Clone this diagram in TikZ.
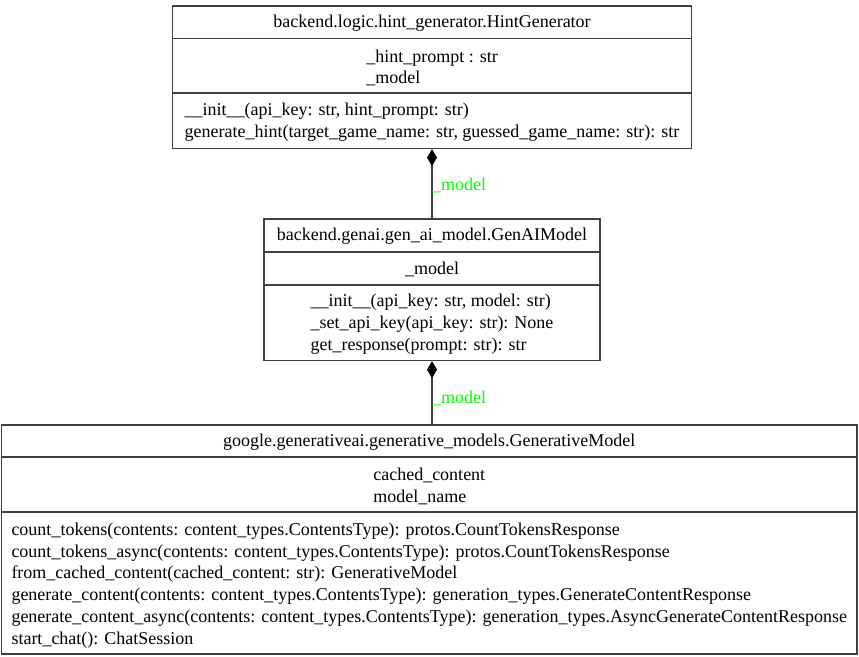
\documentclass[tikz,border=0pt]{standalone}
\usepackage{fontspec}
\setmainfont{Liberation Serif}
\newfontfamily\tmsfont{Liberation Serif}
\usetikzlibrary{arrows.meta}
\definecolor{lbl}{rgb}{0,1,0}
\definecolor{ln}{gray}{0.25}
\begin{document}
\begin{tikzpicture}[x=1pt,y=-1pt,
  box/.style={draw=ln, line width=1.2pt, inner sep=0pt},
  div/.style={draw=ln, line width=1.2pt},
  txt/.style={inner sep=0pt, align=left, font=\tmsfont\fontsize{18}{21.8}\selectfont},
  lab/.style={inner sep=0pt, text=lbl, font=\tmsfont\fontsize{18}{21.8}\selectfont},
  edge/.style={draw=ln, line width=1.3pt, {Diamond[length=17pt,width=10pt,fill=black,color=black]}-}]
\useasboundingbox (0,0) rectangle (859,656);
% HintGenerator
\node[box, minimum width=519pt, minimum height=142.5pt] (hg) at (432,77.25) {};
\coordinate (hg1) at (432,38.5);
\coordinate (hg2) at (432,93);
\draw[div] (hg.west |- hg1) -- (hg.east |- hg1);
\draw[div] (hg.west |- hg2) -- (hg.east |- hg2);
\node[txt] (hgT) at (432,23) {backend.logic.hint\_generator.HintGenerator};
\node[txt] (hgA) at (432,68) {\_hint\_prompt : str\\\_model};
\node[txt] (hgM) at (432,122) {\_\_init\_\_(api\_key: str, hint\_prompt: str)\\generate\_hint(target\_game\_name: str, guessed\_game\_name: str): str};
% GenAIModel
\node[box, minimum width=336pt, minimum height=141.5pt] (gm) at (432,289.75) {};
\coordinate (gm1) at (432,252);
\coordinate (gm2) at (432,285);
\draw[div] (gm.west |- gm1) -- (gm.east |- gm1);
\draw[div] (gm.west |- gm2) -- (gm.east |- gm2);
\node[txt] (gmT) at (432,236.5) {backend.genai.gen\_ai\_model.GenAIModel};
\node[txt] (gmA) at (432,269.5) {\_model};
\node[txt] (gmM) at (432,324) {\_\_init\_\_(api\_key: str, model: str)\\\_set\_api\_key(api\_key: str): None\\get\_response(prompt: str): str};
% GenerativeModel
\node[box, minimum width=855.5pt, minimum height=229pt] (gv) at (429.25,539.5) {};
\coordinate (gv1) at (429.25,457);
\coordinate (gv2) at (429.25,512);
\draw[div] (gv.west |- gv1) -- (gv.east |- gv1);
\draw[div] (gv.west |- gv2) -- (gv.east |- gv2);
\node[txt] (gvT) at (429.25,442) {google.generativeai.generative\_models.GenerativeModel};
\node[txt] (gvA) at (429.25,486.5) {cached\_content\\model\_name};
\node[txt] (gvM) at (429.25,585.5) {count\_tokens(contents: content\_types.ContentsType): protos.CountTokensResponse\\count\_tokens\_async(contents: content\_types.ContentsType): protos.CountTokensResponse\\from\_cached\_content(cached\_content: str): GenerativeModel\\generate\_content(contents: content\_types.ContentsType): generation\_types.GenerateContentResponse\\generate\_content\_async(contents: content\_types.ContentsType): generation\_types.AsyncGenerateContentResponse\\start\_chat(): ChatSession};
% edges
\draw[edge] (hg.south) -- (gm.north);
\coordinate (gvtop) at (gm.south |- gv.north);
\draw[edge] (gm.south) -- (gvtop);
\node[lab, anchor=base west] (l1) at (432,190) {\_model};
\node[lab, anchor=base west] (l2) at (432,403) {\_model};
\end{tikzpicture}
\end{document}
